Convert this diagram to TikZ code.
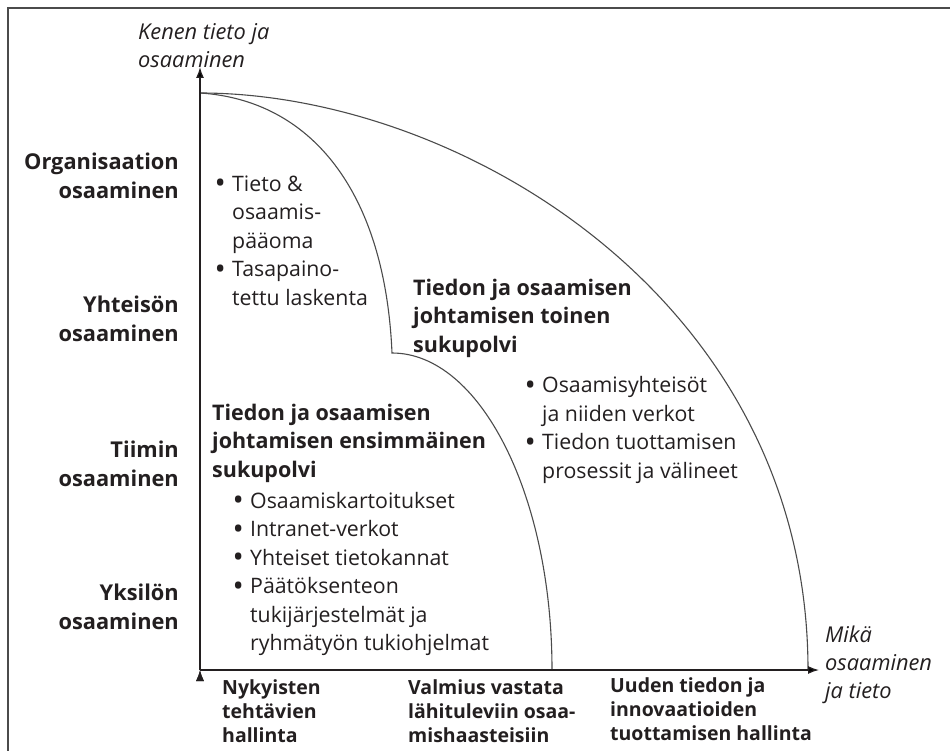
\documentclass[tikz,border=0pt]{standalone}
\usepackage{fontspec}
\setmainfont{Open Sans}
\usepackage{tikz}
\usetikzlibrary{arrows.meta}
\definecolor{ink}{RGB}{35,31,32}
\definecolor{wire}{RGB}{75,75,75}
\newcommand{\blt}{\makebox[17.6pt][l]{\raisebox{-2.4pt}{\fontsize{30}{30}\selectfont\textbullet}}}

\begin{document}
\begin{tikzpicture}[x=1pt,y=-1pt,
  axis/.style={draw=ink,line width=1.3pt,-{Latex[length=11pt,width=8pt]}},
  wave/.style={draw=wire,line width=1.1pt},
  level/.style={anchor=east,align=right,inner sep=0pt,text=ink,font=\bfseries\fontsize{21.8}{28.5}\selectfont},
  head/.style={anchor=west,align=left,inner sep=0pt,text=ink,font=\bfseries\fontsize{21.5}{28.5}\selectfont},
  items/.style={anchor=west,align=left,inner sep=0pt,text=ink,font=\fontsize{21.3}{28.5}\selectfont},
  stage/.style={anchor=west,align=left,inner sep=0pt,text=ink,font=\bfseries\fontsize{19.5}{24}\selectfont},
  axlabel/.style={anchor=west,align=left,inner sep=0pt,text=ink,font=\itshape\fontsize{21.8}{28}\selectfont}]
  \useasboundingbox (0,0) rectangle (950,751);
  \draw[wire,line width=1.4pt] (950,8) -- (8,8) -- (8,751);

  \coordinate (origo) at (200,670);
  \coordinate (ytip) at (200,67);
  \coordinate (xtip) at (819,670);
  \coordinate (top) at (200,93);
  \coordinate (kink) at (392,353);
  \coordinate (mid) at (552,670);
  \coordinate (far) at (808,670);

  \draw (138,46) node[axlabel] (kenen) {Kenen tieto ja\\osaaminen};
  \draw (825,665) node[axlabel] (mika) {Mikä\\osaaminen\\ja tieto};

  \draw (179,176) node[level] (organisaatio) {Organisaation\\osaaminen};
  \draw (179,319) node[level] (yhteiso) {Yhteisön\\osaaminen};
  \draw (179,464) node[level] (tiimi) {Tiimin\\osaaminen};
  \draw (179,607) node[level] (yksilo) {Yksilön\\osaaminen};

  \draw (214.4,242.5) node[items] (paaoma) {\begin{tabular}{@{}l@{}l@{}}\blt & Tieto \&\\ & osaamis-\\ & pääoma\\ \blt & Tasapaino-\\ & tettu laskenta\end{tabular}};

  \draw (212,443) node[head] (eka) {Tiedon ja osaamisen\\johtamisen ensimmäinen\\sukupolvi};
  \draw (232.4,574) node[items] (ekalista) {\begin{tabular}{@{}l@{}l@{}}\blt & Osaamiskartoitukset\\ \blt & Intranet-verkot\\ \blt & Yhteiset tietokannat\\ \blt & Päätöksenteon\\ & tukijärjestelmät ja\\ & ryhmätyön tukiohjelmat\end{tabular}};

  \draw (413,318) node[head] (toka) {Tiedon ja osaamisen\\johtamisen toinen\\sukupolvi};
  \draw (524.4,430) node[items] (tokalista) {\begin{tabular}{@{}l@{}l@{}}\blt & Osaamisyhteisöt\\ & ja niiden verkot\\ \blt & Tiedon tuottamisen\\ & prosessit ja välineet\end{tabular}};

  \draw (222,711) node[stage] (nykyiset) {Nykyisten\\tehtävien\\hallinta};
  \draw (408,711) node[stage] (valmius) {Valmius vastata\\lähituleviin osaa-\\mishaasteisiin};
  \draw (610,709) node[stage] (uusi) {Uuden tiedon ja\\innovaatioiden\\tuottamisen hallinta};

  \path[wave] (top) .. controls (310,100) and (385,190) .. (kink)
    .. controls (480,353) and (552,495) .. (mid);
  \path[wave] (top) .. controls (460,93) and (808,300) .. (far);
  \path[axis] (origo) edge (ytip);
  \path[axis] (origo) edge (xtip);

\end{tikzpicture}
\end{document}
